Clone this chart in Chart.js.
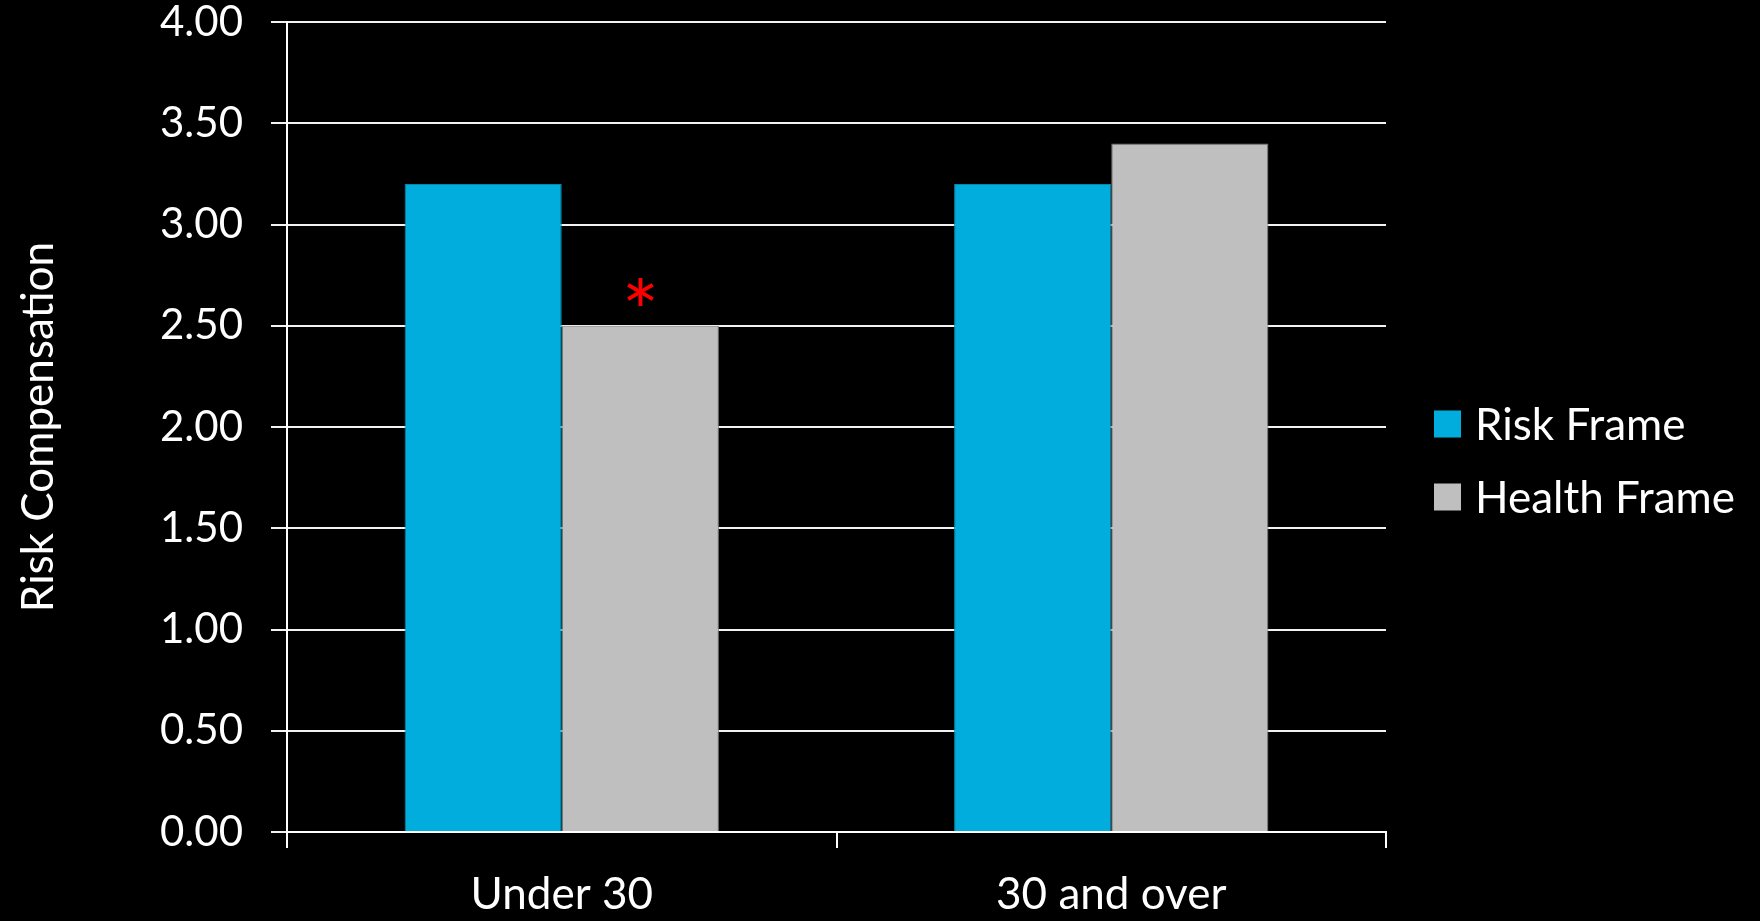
<!DOCTYPE html>
<html lang="en">
<head>
    <meta charset="UTF-8">
    <title>Risk Compensation by Age and Frame</title>
    <style>
        body {
            margin: 0;
            background-color: #000;
            overflow: hidden;
        }
        .chart-container {
            position: relative;
            width: 1760px;
            height: 921px;
        }
    </style>
    <script src="https://cdn.jsdelivr.net/npm/chart.js"></script>
</head>
<body>
    <div class="chart-container">
        <canvas id="riskChart"></canvas>
    </div>

    <script>
        // Data
        const ageGroups = ['Under 30', '30 and over'];
        const riskFrame = [3.2, 3.2];
        const healthFrame = [2.5, 3.4];
        // significance markers drawn above the Health Frame bars
        const healthMarks = ['*', ''];
        const yTicks = [0, 0.5, 1, 1.5, 2, 2.5, 3, 3.5, 4];

        const FONT = 'Lato, "Open Sans", sans-serif';

        // Legend drawn to the right of the plot, vertically centred
        const sideLegend = {
            id: 'sideLegend',
            afterDraw(chart) {
                const { ctx, chartArea } = chart;
                const box = 27;
                const x = chartArea.right + 48;
                const midY = chart.height / 2;
                const rowGap = 73;
                const sets = chart.data.datasets;
                ctx.save();
                ctx.font = '44px ' + FONT;
                ctx.textBaseline = 'middle';
                ctx.textAlign = 'left';
                sets.forEach((ds, i) => {
                    const cy = midY + (i - (sets.length - 1) / 2) * rowGap;
                    ctx.fillStyle = ds.backgroundColor;
                    ctx.fillRect(x, cy - box / 2, box, box);
                    ctx.fillStyle = '#fff';
                    ctx.fillText(ds.label, x + box + 14, cy + 2);
                });
                ctx.restore();
            }
        };

        // Red asterisks above marked bars
        const barMarks = {
            id: 'barMarks',
            afterDatasetsDraw(chart) {
                const { ctx } = chart;
                const meta = chart.getDatasetMeta(1);
                ctx.save();
                ctx.font = '88px ' + FONT;
                ctx.fillStyle = '#ff0000';
                ctx.textAlign = 'center';
                ctx.textBaseline = 'alphabetic';
                meta.data.forEach((bar, i) => {
                    const mark = healthMarks[i];
                    if (!mark) return;
                    const m = ctx.measureText(mark);
                    const centreY = bar.y - 34;
                    const y = centreY + (m.actualBoundingBoxAscent - m.actualBoundingBoxDescent) / 2;
                    ctx.fillText(mark, bar.x, y);
                });
                ctx.restore();
            }
        };

        const ctx = document.getElementById('riskChart').getContext('2d');
        const chart = new Chart(ctx, {
            type: 'bar',
            data: {
                labels: ageGroups,
                datasets: [{
                    label: 'Risk Frame',
                    data: riskFrame,
                    backgroundColor: '#00addc',
                    borderColor: '#0a86a8',
                    borderWidth: 1,
                    categoryPercentage: 0.572,
                    barPercentage: 1.0
                }, {
                    label: 'Health Frame',
                    data: healthFrame,
                    backgroundColor: '#bfbfbf',
                    borderColor: '#7a7a7a',
                    borderWidth: 1,
                    categoryPercentage: 0.572,
                    barPercentage: 1.0
                }]
            },
            options: {
                responsive: true,
                maintainAspectRatio: false,
                animation: false,
                layout: {
                    padding: { top: 22, right: 374, bottom: 0, left: 0 }
                },
                plugins: {
                    legend: { display: false },
                    tooltip: { enabled: false }
                },
                scales: {
                    x: {
                        afterFit(scale) {
                            scale.height = 89;
                        },
                        grid: {
                            offset: true,
                            drawOnChartArea: false,
                            drawTicks: true,
                            tickLength: 16,
                            color: '#ffffff',
                            lineWidth: 2
                        },
                        border: { display: true, color: '#ffffff', width: 2 },
                        ticks: {
                            color: '#ffffff',
                            padding: 20,
                            font: { family: FONT, size: 44 }
                        }
                    },
                    y: {
                        min: 0,
                        max: 4,
                        afterBuildTicks(scale) {
                            scale.ticks = yTicks.map(v => ({ value: v }));
                        },
                        afterFit(scale) {
                            // fixed axis width, no extra room above/below the plot
                            scale.width = 287;
                            scale.paddingTop = 0;
                            scale.paddingBottom = 0;
                        },
                        grid: {
                            color: '#f2f2f2',
                            lineWidth: 2,
                            tickLength: 16
                        },
                        border: { display: true, color: '#ffffff', width: 2 },
                        ticks: {
                            color: '#ffffff',
                            padding: 28,
                            font: { family: FONT, size: 42, lineHeight: 1 },
                            callback: v => v.toFixed(2)
                        },
                        title: {
                            display: true,
                            text: 'Risk Compensation',
                            color: '#ffffff',
                            padding: { top: 12, bottom: 0 },
                            font: { family: FONT, size: 44 }
                        }
                    }
                }
            },
            plugins: [barMarks, sideLegend]
        });
    </script>
</body>
</html>
